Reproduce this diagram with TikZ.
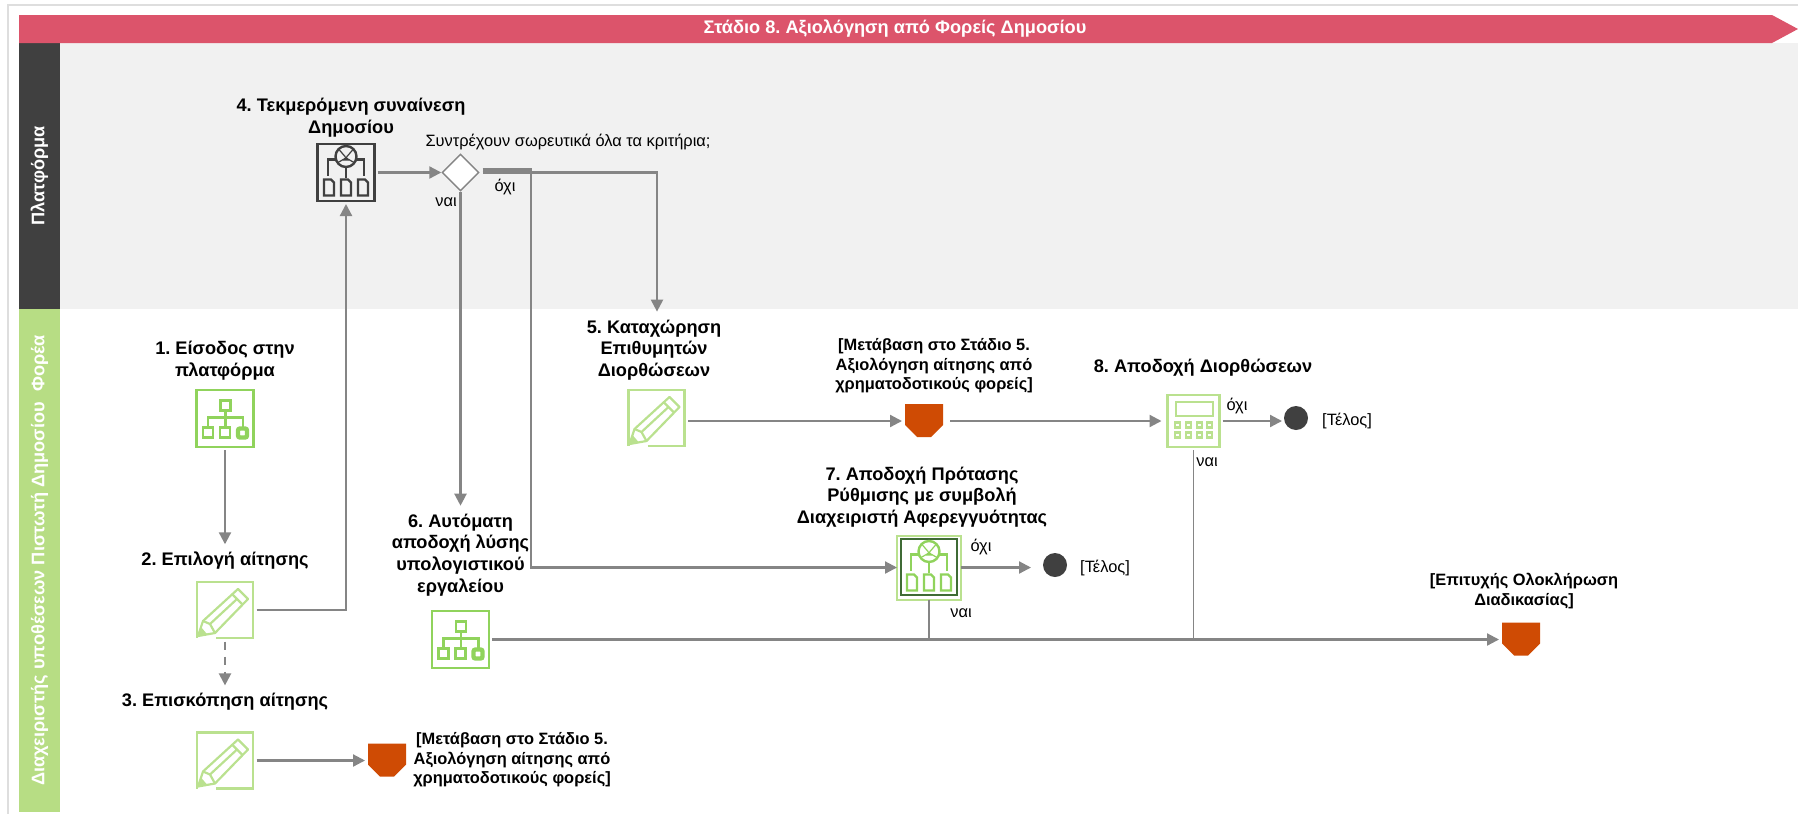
\documentclass[tikz,border=0pt]{standalone}
\usepackage{fontspec}
\setmainfont{Liberation Sans}
\usetikzlibrary{arrows.meta}
\usetikzlibrary{positioning}
\usetikzlibrary{shapes.geometric}
\frenchspacing
\definecolor{stagered}{HTML}{DC546B}
\definecolor{laneblack}{HTML}{404040}
\definecolor{lanegreen}{HTML}{B7DD84}
\definecolor{lanegrey}{HTML}{F1F1F1}
\definecolor{framegrey}{HTML}{DEDEDE}
\definecolor{flowgrey}{HTML}{858585}
\definecolor{iconlight}{HTML}{BAE18F}
\definecolor{iconmid}{HTML}{90D35C}
\definecolor{icondark}{HTML}{3F6B35}
\definecolor{offorange}{HTML}{CF4B04}
% icons, px units around the centre of a named box
\def\pencil#1{\begin{scope}[shift={(#1.center)},draw=iconlight,line width=1.2pt]
	\draw (-9,28) -- (28,28) -- (28,-28) -- (-28,-28) -- (-28,28);
	\draw[line width=1.1pt,line join=round] (-27,26) -- (-22,11) -- (13,-21) -- (23,-11) -- (-10,23) -- cycle;
	\draw[line width=1.1pt] (7,-16) -- (17,-6) (-15,14) -- (12,-11) (-22,11) -- (-15,14) -- (-10,23);
	\fill[iconlight] (-27,26) -- (-24,17) -- (-18,24) -- cycle;
\end{scope}}
\def\hierarchy#1{\begin{scope}[shift={(#1.center)},draw=iconmid,line width=1.2pt]
	\draw (-4.5,-18) rectangle (5.5,-8);
	\draw (0.5,-8) -- (0.5,9) (-17,9) -- (-17,-1) -- (18,-1) -- (18,9);
	\draw[line width=1.7pt] (1,-1) -- (18,-1);
	\draw (-22,9) rectangle (-12,19) (-5,9) rectangle (5,19);
	\draw[line width=2.2pt,rounded corners=1pt] (13,10) rectangle (22,19);
\end{scope}}
\def\network#1#2#3{\begin{scope}[shift={(#1.center)},draw=#2,line width=1.2pt]
	\draw (0,-16) circle (10.5);
	\draw (-18,3) -- (-18,-13) -- (-10,-13) (18,3) -- (18,-13) -- (10,-13) (0,-5) -- (0,5);
	\draw[line width=0.6pt] (-7,-23) -- (-1,-16) (7,-23) -- (1,-16) (-8,-10) -- (-1,-14) (8,-10) -- (1,-14);
	\fill[#2] (0,-17) -- (-3,-12) -- (3,-12) -- cycle;
	\foreach \dx in {-17,0,17}
		\draw[draw=#3] (\dx-5,7) -- (\dx+2,7) -- (\dx+5,10) -- (\dx+5,23) -- (\dx-5,23) -- cycle;
\end{scope}}
\def\keypad#1{\begin{scope}[shift={(#1.center)},draw=iconlight,line width=1pt]
	\draw (-18,-19) rectangle (19,-5);
	\foreach \dx in {-16,-5,6,16}
		\foreach \dy in {4,14}
			\draw[line width=1.3pt] (\dx-2.5,\dy-2.5) rectangle (\dx+2.5,\dy+2.5);
\end{scope}}
\def\offpage#1#2{\node[offbox] (#1) at (#2) {};
	\fill[offorange] ([shift={(-19,-17)}]#1.center) -- ++(38,0) -- ++(0,21) -- ++(-12,12) -- ++(-14,0) -- ++(-12,-12) -- cycle;}

\begin{document}
\begin{tikzpicture}[x=0.5pt,y=-0.5pt,>={Triangle[length=6pt,width=6pt]},
	flow/.style={->,draw=flowgrey,line width=1.1pt},
	thinflow/.style={draw=flowgrey,line width=0.9pt},
	iconbox/.style={minimum size=28.5pt,inner sep=0pt,outer sep=1.5pt},
	lanetext/.style={text=white,font=\fontsize{9.1}{10}\selectfont\bfseries,inner sep=0pt},
	title/.style={align=center,font=\fontsize{9.1}{10.9}\selectfont\bfseries,inner sep=0pt,outer sep=4pt},
	note/.style={align=center,font=\fontsize{8.2}{9.7}\selectfont,inner sep=0pt},
	goal/.style={align=center,font=\fontsize{8.2}{9.7}\selectfont\bfseries,inner sep=0pt},
	offbox/.style={minimum width=19pt,minimum height=16.5pt,inner sep=0pt,outer sep=1.5pt},
	enddot/.style={circle,fill=laneblack,minimum size=12pt,inner sep=0pt,outer sep=1pt}]
	\useasboundingbox (0,0) rectangle (1798,814);
	
	% frame and lanes
	\draw[framegrey,line width=0.6pt] (1798,5) -- (8,5) -- (8,814);
	\fill[lanegrey] (60,43) rectangle (1798,309);
	\node[lanetext,fill=laneblack,rotate=90,minimum width=133pt,minimum height=20.5pt] (laneone) at (39.5,176) {Πλατφόρμα};
	\node[lanetext,fill=lanegreen,rotate=90,minimum width=251.5pt,minimum height=20.5pt] (lanetwo) at (39.5,560.5) {Διαχειριστής υποθέσεων Πιστωτή Δημοσίου\ \ Φορέα};
	\fill[stagered] (19,15) -- (1772,15) -- (1798,29) -- (1772,43) -- (19,43) -- cycle;
	\node[lanetext] (stage) at (895,29) {Στάδιο 8. Αξιολόγηση από Φορείς Δημοσίου};
	
	% steps
	\node[iconbox,draw=iconmid,line width=1.3pt] (iconone) at (225,418.5) {};
	\node[iconbox] (icontwo) at (225,610) {};
	\node[iconbox] (iconthree) at (225,760.5) {};
	\node[iconbox,draw=laneblack,line width=1.3pt] (iconfour) at (346,172.5) {};
	\node[iconbox] (iconfive) at (656.5,418) {};
	\node[iconbox,draw=iconmid,line width=1.3pt] (iconsix) at (460.5,639.5) {};
	\node[iconbox,draw=iconlight,fill=white,line width=1pt,minimum size=32pt,outer sep=0pt] (iconseven) at (929,567.5) {};
	\draw[icondark,line width=1pt] (901,539) rectangle (957,595);
	\node[iconbox,draw=iconlight,line width=1.3pt,minimum size=26pt] (iconeight) at (1193.5,421) {};
	\pencil{icontwo}
	\pencil{iconthree}
	\pencil{iconfive}
	\hierarchy{iconone}
	\hierarchy{iconsix}
	\network{iconfour}{laneblack}{laneblack}
	\network{iconseven}{iconmid}{iconmid}
	\keypad{iconeight}
	
	\node[title] (labelone) at (225,361) {1. Είσοδος στην\\πλατφόρμα};
	\node[title] (labeltwo) at (225,561) {2. Επιλογή αίτησης};
	\node[title] (labelthree) at (225,702) {3. Επισκόπηση αίτησης};
	\node[title] (labelfour) at (351,118) {4. Τεκμερόμενη συναίνεση\\Δημοσίου};
	\node[title] (labelfive) at (654,350) {5. Καταχώρηση\\Επιθυμητών\\Διορθώσεων};
	\node[title] (labelsix) at (460.5,555) {6. Αυτόματη\\αποδοχή λύσης\\υπολογιστικού\\εργαλείου};
	\node[title] (labelseven) at (922,497) {7. Αποδοχή Πρότασης\\Ρύθμισης με συμβολή\\Διαχειριστή Αφερεγγυότητας};
	\node[title] (labeleight) at (1203,368) {8. Αποδοχή Διορθώσεων};
	
	% decision
	\node[diamond,aspect=1,draw=flowgrey,fill=white,line width=0.7pt,minimum size=18.5pt,inner sep=0pt] (decision) at (460.5,172.5) {};
	\node[note] (question) at (568,142) {Συντρέχουν σωρευτικά όλα τα κριτήρια;};
	\node[note] (decno) at (505,187) {όχι};
	\node[note] (decyes) at (446,202) {ναι};
	
	% ends
	\offpage{offone}{387,760.5}
	\offpage{offtwo}{1521,639.5}
	\offpage{offthree}{924,421}
	\node[enddot] (dotseven) at (1055,565) {};
	\node[enddot] (doteight) at (1296,418) {};
	\node[goal] (textoffone) at (512,760) {[Μετάβαση στο Στάδιο 5.\\Αξιολόγηση αίτησης από\\χρηματοδοτικούς φορείς]};
	\node[goal] (textoffthree) at (934,366) {[Μετάβαση στο Στάδιο 5.\\Αξιολόγηση αίτησης από\\χρηματοδοτικούς φορείς]};
	\node[goal] (textofftwo) at (1524,591) {[Επιτυχής Ολοκλήρωση\\Διαδικασίας]};
	\node[note] (endseven) at (1105,568) {[Τέλος]};
	\node[note] (endeight) at (1347,421) {[Τέλος]};
	\node[note] (noseven) at (981,547) {όχι};
	\node[note] (yesseven) at (961,613) {ναι};
	\node[note] (noeight) at (1237,406) {όχι};
	\node[note] (yeseight) at (1207,462) {ναι};
	
	\coordinate (jog) at (531,567.5);
	
	\path
	(iconone) edge[flow] (labeltwo)
	(icontwo) edge[flow,dash pattern=on 4pt off 3.5pt] (labelthree)
	(iconthree) edge[flow] (offone)
	(iconfour) edge[flow] (decision)
	(decision) edge[flow] (labelsix)
	(iconsix) edge[flow] (offtwo)
	(offthree) edge[flow,shorten <=2pt,shorten >=1.5pt] (iconeight);
	\draw[flow] (icontwo) -| (iconfour);
	\draw[flow,shorten <=1.5pt] (decision.east) -| ([xshift=1.5pt]labelfive.north);
	\draw[flow,shorten <=1.5pt] ([yshift=1.5pt]decision.east) -| (jog) -- (iconseven);
	\draw[flow] (iconfive.east |- offthree.west) -- (offthree.west);
	\draw[flow,shorten >=5pt] (iconseven) -- (iconseven -| dotseven.west);
	\draw[flow] (iconeight) -- (iconeight -| doteight.west);
	\draw[thinflow] (iconseven.south) -- (iconseven |- iconsix);
	\draw[thinflow] (iconeight.south) -- (iconeight |- iconsix);
\end{tikzpicture}
\end{document}
